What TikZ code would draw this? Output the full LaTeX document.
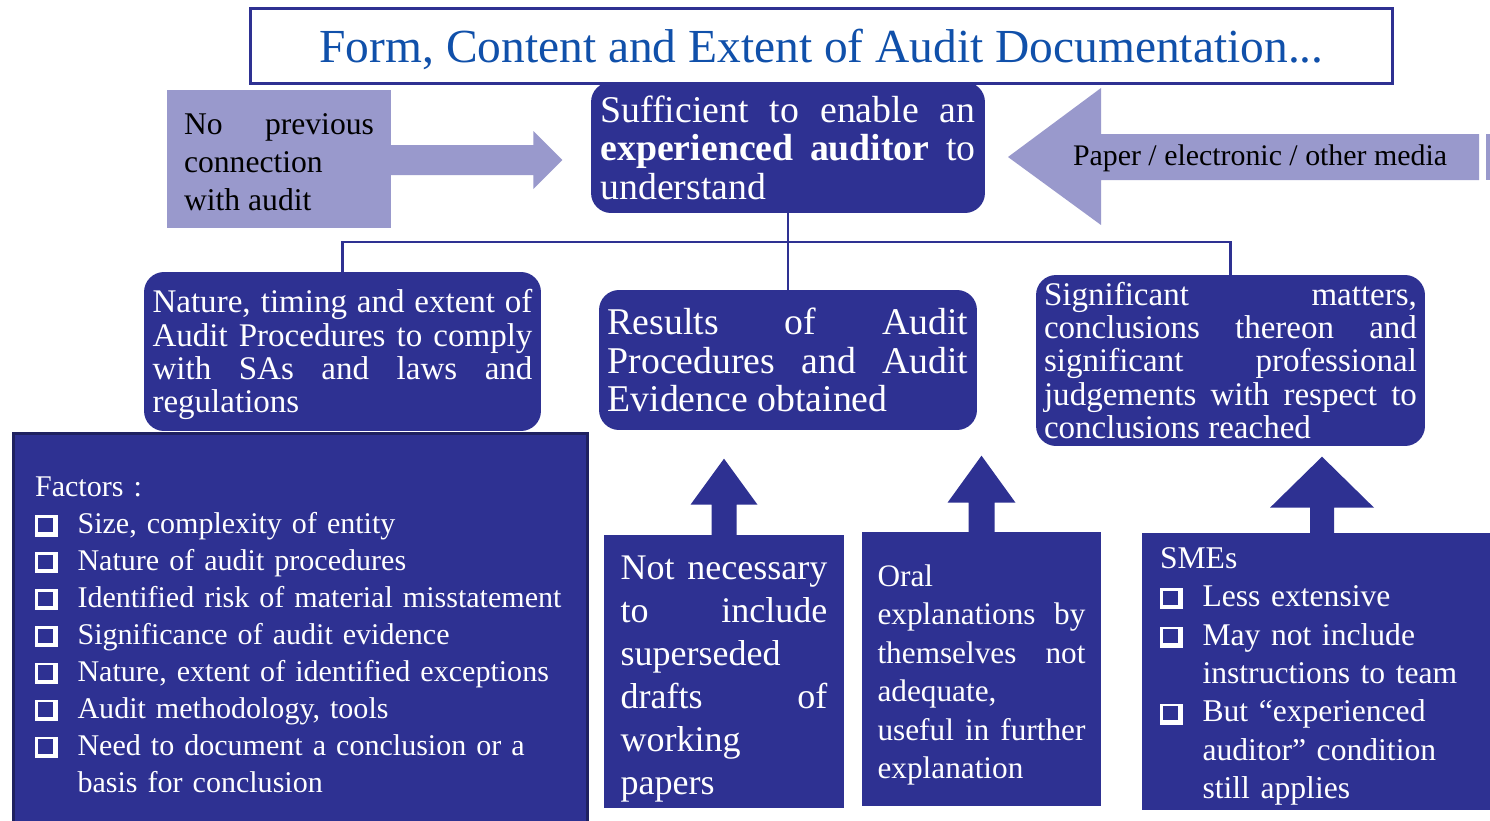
\documentclass[tikz,border=0pt]{standalone}
\usepackage{fontspec}
\setmainfont{Liberation Serif}

\definecolor{boxblue}{RGB}{46,49,146}
\definecolor{lilac}{RGB}{153,153,204}
\definecolor{titleblue}{RGB}{16,80,170}
\definecolor{navyedge}{RGB}{31,33,96}

\hyphenpenalty=10000
\tolerance=10000

% shadowed check box in front of the list items
\newcommand\chk{\makebox[0.85cm][l]{\tikz[x=1pt,y=1pt,baseline=0pt]{\fill[white] (1,-1.5) rectangle (14,10.5); \fill[boxblue] (2.4,0.9) rectangle (11.3,9.1);}}}
\newcommand\chkgap{\hspace*{0.85cm}}

\begin{document}
\begin{tikzpicture}[x=0.02cm,y=-0.02cm,
    roundbox/.style={fill=boxblue,text=white,rounded corners=0.4cm,align=justify,inner sep=0pt},
    flatbox/.style={fill=boxblue,text=white,inner sep=0pt},
    lilacbox/.style={fill=lilac,text=black,align=justify,inner sep=0pt},
    tree/.style={draw=boxblue,line width=0.05cm}]
        \path[use as bounding box,fill=white] (0,0) rectangle (1490,821);
        % title
        \node[draw=boxblue,line width=0.06cm,fill=white,text=titleblue,minimum width=22.86cm,minimum height=1.52cm,text height=0.78cm,text depth=0.1cm,font=\fontsize{27pt}{27pt}\selectfont] (title) at (821.5,46) {Form, Content and Extent of Audit Documentation...};
        % top row
        \node[lilacbox,minimum width=4.48cm,minimum height=2.76cm,text width=3.8cm,font=\fontsize{18pt}{21.6pt}\selectfont] (noprev) at (279,159) {\rule{0pt}{15.7pt}No previous\linebreak connection\newline with audit};
        \fill[lilac] (noprev.east) ++(-1,-14) -- ++(143,0) -- ++(0,-14) -- ++(29,29) -- ++(-29,29) -- ++(0,-14) -- ++(-143,0) -- cycle;
        \node[roundbox,minimum width=7.88cm,minimum height=2.62cm,text width=7.5cm,font=\fontsize{21.5pt}{21.9pt}\selectfont] (suff) at (788,147.5) {Sufficient to enable an\linebreak \textbf{experienced auditor} to\linebreak understand};
        \fill[lilac] (1008,157) -- (1101,88) -- (1101,134) -- (1479,134) -- (1479,180) -- (1101,180) -- (1101,225) -- cycle;
        \fill[lilac] (1486,134) rectangle (1490,180);
        \node[font=\fontsize{17pt}{17pt}\selectfont] (paper) at (1260,158) {Paper / electronic / other media};
        % middle row
        \node[roundbox,minimum width=7.94cm,minimum height=3.18cm,text width=7.6cm,font=\fontsize{18.8pt}{19pt}\selectfont] (nature) at (342.5,351.5) {\rule{0pt}{16.8pt}Nature, timing and extent of\linebreak Audit Procedures to comply\linebreak with SAs and laws and\linebreak regulations};
        \node[roundbox,minimum width=7.56cm,minimum height=2.8cm,text width=7.22cm,font=\fontsize{21.5pt}{21.8pt}\selectfont] (results) at (788,360) {Results of Audit\linebreak Procedures and Audit\linebreak Evidence obtained};
        \node[roundbox,minimum width=7.78cm,minimum height=3.42cm,text width=7.46cm,font=\fontsize{18.8pt}{18.8pt}\selectfont] (signif) at (1230.5,360.5) {Significant matters,\linebreak conclusions thereon and\linebreak significant professional\linebreak judgements with respect to\linebreak conclusions reached};
        % tree from the top box
        \coordinate (fork) at (788,242);
        \draw[tree] (suff.south) -- (results.north);
        \draw[tree] (nature.north) |- (fork) -| (signif.north);
        % bottom row
        \node[flatbox,draw=navyedge,line width=0.06cm,align=left,minimum width=11.5cm,minimum height=7.84cm,text width=10.62cm,font=\fontsize{17.1pt}{21pt}\selectfont] (factors) at (300.5,629) {\rule{0pt}{17.9pt}Factors :\\
            \chk Size, complexity of entity\\
            \chk Nature of audit procedures\\
            \mbox{\chk Identified risk of material misstatement}\\
            \chk Significance of audit evidence\\
            \chk Nature, extent of identified exceptions\\
            \chk Audit methodology, tools\\
            \chk Need to document a conclusion or a\\
            \chkgap basis for conclusion};
        \node[flatbox,align=justify,minimum width=4.8cm,minimum height=5.46cm,text width=4.14cm,font=\fontsize{20.5pt}{24.5pt}\selectfont] (notnec) at (724,671.5) {\rule{0pt}{21.6pt}Not necessary\linebreak to include\linebreak superseded\newline drafts of\linebreak working\newline papers};
        \node[flatbox,align=justify,minimum width=4.78cm,minimum height=5.48cm,text width=4.16cm,font=\fontsize{17.8pt}{21.9pt}\selectfont] (oral) at (981.5,669) {\rule{0pt}{19pt}Oral\newline explanations by\linebreak themselves not\linebreak adequate,\newline useful in further\linebreak explanation};
        \node[flatbox,align=left,minimum width=7.2cm,minimum height=5.54cm,text width=6.48cm,font=\fontsize{18pt}{21.9pt}\selectfont] (smes) at (1322,671.5) {\rule{0pt}{17.5pt}SMEs\\
            \chk Less extensive\\
            \chk May not include\\
            \chkgap instructions to team\\
            \chk But “experienced\\
            \chkgap auditor” condition\\
            \chkgap still applies};
        % block arrows up
        \fill[boxblue] (notnec.north) ++(-12.5,1) -- ++(0,-31) -- ++(-21,0) -- ++(33.5,-46) -- ++(33.5,46) -- ++(-21,0) -- ++(0,31) -- cycle;
        \fill[boxblue] (oral.north) ++(-13,1) -- ++(0,-30) -- ++(-21,0) -- ++(34,-47) -- ++(34,47) -- ++(-21,0) -- ++(0,30) -- cycle;
        \fill[boxblue] (smes.north) ++(-12,1) -- ++(0,-26) -- ++(-40,0) -- ++(52,-51) -- ++(52,51) -- ++(-40,0) -- ++(0,26) -- cycle;
    \end{tikzpicture}
\end{document}
